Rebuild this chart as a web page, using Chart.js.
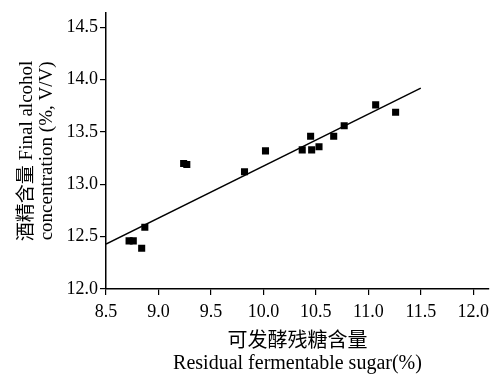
<!DOCTYPE html>
<html>
<head>
<meta charset="utf-8">
<script src="https://cdn.jsdelivr.net/npm/chart.js@4"></script>
<style>
    html, body { margin: 0; padding: 0; background: #fff; }
    #wrap { width: 502px; height: 375px; }
</style>
</head>
<body>
<div id="wrap"><canvas id="chart"></canvas></div>
<script>
// Données
const sugar   = [8.72, 8.76, 8.84, 8.87, 9.24, 9.27, 9.82, 10.02, 10.37, 10.45, 10.46, 10.53, 10.67, 10.77, 11.07, 11.26];
const alcohol = [12.46, 12.46, 12.39, 12.59, 13.20, 13.19, 13.12, 13.32, 13.33, 13.46, 13.33, 13.36, 13.46, 13.56, 13.76, 13.69];

// Droite de régression (extrémités)
const fitX = [8.5, 11.5];
const fitY = [12.43, 13.92];

// Graduations
const xTicks = [8.5, 9.0, 9.5, 10.0, 10.5, 11.0, 11.5, 12.0];
const yTicks = [12.0, 12.5, 13.0, 13.5, 14.0, 14.5];

const xTitle = ['可发酵残糖含量', 'Residual fermentable sugar(%)'];
const yTitle = ['酒精含量 Final alcohol', 'concentration (%, V/V)'];

const serif = "'Liberation Serif', 'Noto Sans CJK SC', serif";

const ctx = document.getElementById('chart').getContext('2d');
new Chart(ctx, {
    data: {
        datasets: [{
            type: 'scatter',
            data: sugar.map((x, i) => ({ x: x, y: alcohol[i] })),
            pointStyle: 'rect',
            pointRadius: 5,
            backgroundColor: '#000',
            borderColor: '#000',
            borderWidth: 0
        }, {
            type: 'line',
            data: fitX.map((x, i) => ({ x: x, y: fitY[i] })),
            borderColor: '#000',
            borderWidth: 1.5,
            pointRadius: 0,
            fill: false
        }]
    },
    options: {
        responsive: true,
        maintainAspectRatio: false,
        animation: false,
        layout: { padding: { top: 10, right: 13, bottom: 0, left: 0 } },
        plugins: {
            legend: { display: false },
            tooltip: { enabled: false }
        },
        scales: {
            x: {
                type: 'linear',
                min: 8.5,
                max: 12.15,
                afterBuildTicks: axis => { axis.ticks = xTicks.map(v => ({ value: v })); },
                afterFit: axis => { axis.height = 86; },
                grid: { drawOnChartArea: false, drawTicks: true, tickLength: 6, color: '#000', lineWidth: 1.2 },
                border: { color: '#000', width: 1.5 },
                ticks: {
                    color: '#000',
                    padding: 6,
                    maxRotation: 0,
                    font: { family: serif, size: 18 },
                    callback: v => v.toFixed(1)
                },
                title: {
                    display: true,
                    text: xTitle,
                    color: '#000',
                    padding: { top: 0, bottom: 0 },
                    font: { family: serif, size: 20, lineHeight: 1.1 }
                }
            },
            y: {
                type: 'linear',
                min: 12.0,
                max: 14.64,
                afterBuildTicks: axis => { axis.ticks = yTicks.map(v => ({ value: v })); },
                afterFit: axis => { axis.width = 106; },
                grid: { drawOnChartArea: false, drawTicks: true, tickLength: 6, color: '#000', lineWidth: 1.2 },
                border: { color: '#000', width: 1.5 },
                ticks: {
                    color: '#000',
                    padding: 2,
                    font: { family: serif, size: 18 },
                    callback: v => v.toFixed(1)
                },
                title: {
                    display: true,
                    text: yTitle,
                    color: '#000',
                    padding: { top: 17, bottom: 0 },
                    font: { family: serif, size: 19, lineHeight: 1.05 }
                }
            }
        }
    }
});
</script>
</body>
</html>
